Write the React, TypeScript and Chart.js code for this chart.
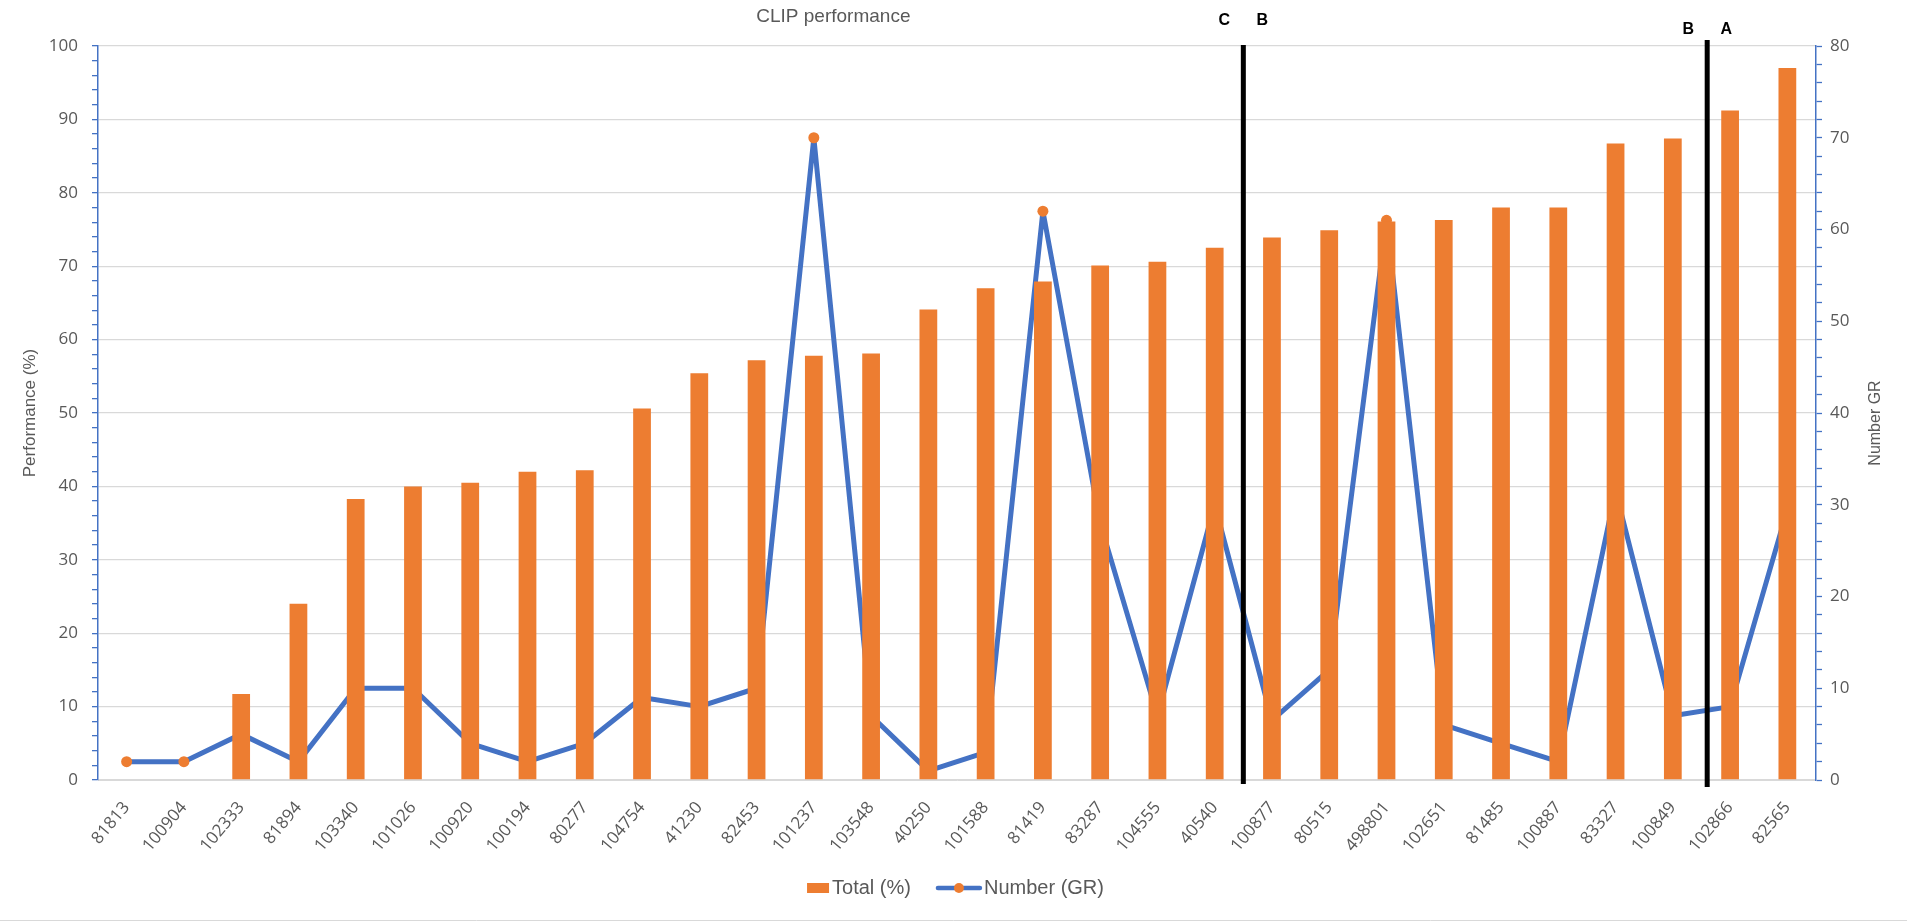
import React, { useEffect, useRef } from 'react';
import { Chart, registerables } from 'chart.js';

Chart.register(...registerables);

// ---------- data ----------
const categories = [
  '81813', '100904', '102333', '81894', '103340', '101026', '100920', '100194', '80277', '104754',
  '41230', '82453', '101237', '103548', '40250', '101588', '81419', '83287', '104555', '40540',
  '100877', '80515', '498801', '102651', '81485', '100887', '83327', '100849', '102866', '82565',
];
const totalPercent = [
  0, 0, 11.7, 24, 38.3, 40, 40.5, 42, 42.2, 50.6,
  55.4, 57.2, 57.8, 58.1, 64.1, 67, 67.9, 70.1, 70.6, 72.5,
  73.9, 74.9, 76.1, 76.3, 78, 78, 86.7, 87.4, 91.2, 97,
];
const numberGR = [
  2, 2, 5, 2, 10, 10, 4, 2, 4, 9,
  8, 10, 70, 7, 1, 3, 62, 28, 7, 30,
  6.5, 12, 61, 6, 4, 2, 31.5, 7, 8, 29.5,
];
const leftAxisRange = [0, 100];
const rightAxisRange = [0, 80];
const majorTickStep = 10;
const minorTickStep = 2;
const dividerAt = [19.5, 27.6];
const dividerLetters = [['C', 'B'], ['B', 'A']];

// ---------- styles ----------
const ORANGE = '#ED7D31';
const BLUE = '#4472C4';
const TEXT = '#595959';
const GRID = '#d9d9d9';
const TICK_FONT = '"Open Sans", "Noto Sans", sans-serif';
const LABEL_FONT = '"Liberation Sans", Arial, sans-serif';

const W = 1907;
const H = 922;

const overlayPlugin = {
  id: 'overlay',
  afterDraw(chart: any) {
    const { ctx, chartArea, scales } = chart;
    const xs = scales.x;
    ctx.save();

    // title
    ctx.fillStyle = TEXT;
    ctx.font = `19px ${LABEL_FONT}`;
    ctx.textAlign = 'center';
    ctx.textBaseline = 'middle';
    ctx.fillText('CLIP performance', chart.width * 0.437, 17);

    // dividers
    const extents = [
      { top: -1, bottom: 4, labelY: 21 },
      { top: -6, bottom: 7, labelY: 30 },
    ];
    dividerAt.forEach((v, i) => {
      const px = xs.getPixelForValue(v);
      const e = extents[i];
      ctx.strokeStyle = '#000';
      ctx.lineWidth = 5;
      ctx.beginPath();
      ctx.moveTo(px, chartArea.top + e.top);
      ctx.lineTo(px, chartArea.bottom + e.bottom);
      ctx.stroke();
      ctx.fillStyle = '#000';
      ctx.font = `bold 16px ${LABEL_FONT}`;
      ctx.textAlign = 'center';
      ctx.textBaseline = 'middle';
      ctx.fillText(dividerLetters[i][0], px - 19, e.labelY);
      ctx.fillText(dividerLetters[i][1], px + 19, e.labelY);
    });

    // right axis title (reads bottom to top)
    ctx.save();
    ctx.fillStyle = TEXT;
    ctx.font = `16px ${LABEL_FONT}`;
    ctx.translate(chart.width - 31, (chartArea.top + chartArea.bottom) / 2 + 10);
    ctx.rotate(-Math.PI / 2);
    ctx.textAlign = 'center';
    ctx.textBaseline = 'middle';
    ctx.fillText('Number GR', 0, 0);
    ctx.restore();

    // legend
    ctx.font = `20px ${LABEL_FONT}`;
    ctx.textBaseline = 'middle';
    ctx.textAlign = 'left';
    const t1 = 'Total (%)';
    const t2 = 'Number (GR)';
    const w1 = ctx.measureText(t1).width;
    const w2 = ctx.measureText(t2).width;
    const total = 22 + 3 + w1 + 25 + 46 + 2 + w2;
    let lx = chart.width / 2 + 2 - total / 2;
    const ly = 888;
    ctx.fillStyle = ORANGE;
    ctx.fillRect(lx, ly - 5, 22, 10);
    lx += 25;
    ctx.fillStyle = TEXT;
    ctx.fillText(t1, lx, ly);
    lx += w1 + 25;
    ctx.strokeStyle = BLUE;
    ctx.lineWidth = 4.5;
    ctx.lineCap = 'round';
    ctx.beginPath();
    ctx.moveTo(lx + 2, ly);
    ctx.lineTo(lx + 44, ly);
    ctx.stroke();
    ctx.fillStyle = ORANGE;
    ctx.beginPath();
    ctx.arc(lx + 23, ly, 5, 0, Math.PI * 2);
    ctx.fill();
    lx += 48;
    ctx.fillStyle = TEXT;
    ctx.fillText(t2, lx, ly);

    // frame bottom line
    ctx.strokeStyle = GRID;
    ctx.lineWidth = 1;
    ctx.beginPath();
    ctx.moveTo(0, 920.5);
    ctx.lineTo(chart.width, 920.5);
    ctx.stroke();

    ctx.restore();
  },
};

const majorOnly = (v: any) => (Number(v) % majorTickStep === 0 ? String(v) : '');

export default function App() {
  const ref = useRef<HTMLCanvasElement | null>(null);

  useEffect(() => {
    if (!ref.current) return;
    const chart = new Chart(ref.current, {
      type: 'bar',
      data: {
        labels: categories,
        datasets: [
          {
            type: 'bar',
            label: 'Total (%)',
            data: totalPercent,
            backgroundColor: ORANGE,
            borderWidth: 0,
            yAxisID: 'y',
            barPercentage: 0.31,
            categoryPercentage: 1,
            order: 0,
          } as any,
          {
            type: 'line',
            label: 'Number (GR)',
            data: numberGR,
            borderColor: BLUE,
            backgroundColor: ORANGE,
            borderWidth: 5,
            borderCapStyle: 'round',
            borderJoinStyle: 'round',
            pointRadius: 5.5,
            pointBackgroundColor: ORANGE,
            pointBorderWidth: 0,
            tension: 0,
            yAxisID: 'y1',
            order: 1,
          } as any,
        ],
      },
      options: {
        responsive: false,
        animation: false,
        devicePixelRatio: 1,
        layout: { padding: { top: 46, left: 0, right: 0, bottom: 0 } },
        plugins: {
          legend: { display: false },
          title: { display: false },
          tooltip: { enabled: false },
        },
        scales: {
          x: {
            offset: true,
            grid: { display: false },
            border: { display: true, color: GRID, width: 1 },
            ticks: {
              autoSkip: false,
              maxRotation: 50,
              minRotation: 50,
              padding: 10,
              color: TEXT,
              font: { family: TICK_FONT, size: 17 },
            },
            afterFit: (s: any) => {
              s.height = H - 780;
            },
          },
          y: {
            position: 'left',
            min: leftAxisRange[0],
            max: leftAxisRange[1],
            ticks: {
              stepSize: minorTickStep,
              maxTicksLimit: 200,
              autoSkip: false,
              callback: majorOnly,
              color: TEXT,
              padding: 14,
              font: { family: TICK_FONT, size: 17 },
            },
            grid: {
              color: (c: any) =>
                c.tick && c.tick.value % majorTickStep === 0 ? GRID : 'rgba(0,0,0,0)',
              lineWidth: 1.3,
              tickColor: BLUE,
              tickLength: 6,
              tickWidth: 1.3,
            },
            border: { display: true, color: BLUE, width: 1.5 },
            title: {
              display: true,
              text: 'Performance (%)',
              color: TEXT,
              font: { family: LABEL_FONT, size: 17 },
              padding: { top: 20, bottom: 0 },
            },
            afterFit: (s: any) => {
              s.width = 98;
            },
          },
          y1: {
            position: 'right',
            min: rightAxisRange[0],
            max: rightAxisRange[1],
            ticks: {
              stepSize: minorTickStep,
              maxTicksLimit: 200,
              autoSkip: false,
              callback: majorOnly,
              color: TEXT,
              padding: 8,
              font: { family: TICK_FONT, size: 17 },
            },
            grid: {
              drawOnChartArea: false,
              color: BLUE,
              tickColor: BLUE,
              tickLength: 6,
              tickWidth: 1.3,
            },
            border: { display: true, color: BLUE, width: 1.5 },
            afterFit: (s: any) => {
              s.width = 91;
            },
          },
        },
      },
      plugins: [overlayPlugin],
    } as any);
    return () => chart.destroy();
  }, []);

  return (
    <div style={{ position: 'fixed', left: 0, top: 0, width: W, height: H, background: '#fff' }}>
      <canvas ref={ref} width={W} height={H} style={{ display: 'block' }} />
    </div>
  );
}
